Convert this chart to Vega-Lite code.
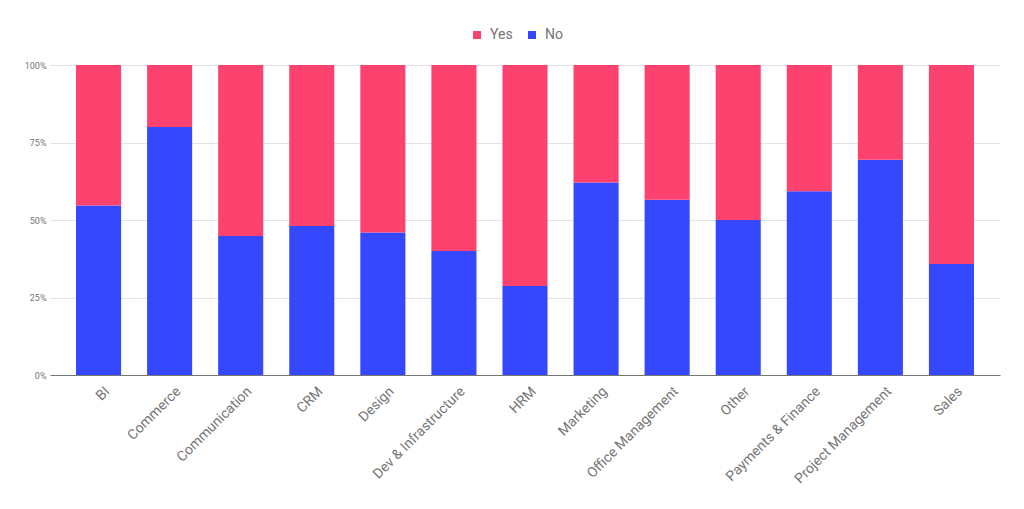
{
  "$schema": "https://vega.github.io/schema/vega-lite/v6.json",
  "autosize": "none",
  "width": 950,
  "height": 310,
  "padding": {"left": 50, "top": 65, "right": 24, "bottom": 134},
  "background": "white",
  "config": {
    "font": "Roboto",
    "view": {"stroke": null}
  },
  "data": {
    "values": [
      {"category": "BI", "answer": "No", "value": 0.547},
      {"category": "BI", "answer": "Yes", "value": 0.453},
      {"category": "Commerce", "answer": "No", "value": 0.80},
      {"category": "Commerce", "answer": "Yes", "value": 0.20},
      {"category": "Communication", "answer": "No", "value": 0.448},
      {"category": "Communication", "answer": "Yes", "value": 0.552},
      {"category": "CRM", "answer": "No", "value": 0.481},
      {"category": "CRM", "answer": "Yes", "value": 0.519},
      {"category": "Design", "answer": "No", "value": 0.46},
      {"category": "Design", "answer": "Yes", "value": 0.54},
      {"category": "Dev & Infrastructure", "answer": "No", "value": 0.40},
      {"category": "Dev & Infrastructure", "answer": "Yes", "value": 0.60},
      {"category": "HRM", "answer": "No", "value": 0.287},
      {"category": "HRM", "answer": "Yes", "value": 0.713},
      {"category": "Marketing", "answer": "No", "value": 0.621},
      {"category": "Marketing", "answer": "Yes", "value": 0.379},
      {"category": "Office Management", "answer": "No", "value": 0.565},
      {"category": "Office Management", "answer": "Yes", "value": 0.435},
      {"category": "Other", "answer": "No", "value": 0.50},
      {"category": "Other", "answer": "Yes", "value": 0.50},
      {"category": "Payments & Finance", "answer": "No", "value": 0.593},
      {"category": "Payments & Finance", "answer": "Yes", "value": 0.407},
      {"category": "Project Management", "answer": "No", "value": 0.694},
      {"category": "Project Management", "answer": "Yes", "value": 0.306},
      {"category": "Sales", "answer": "No", "value": 0.358},
      {"category": "Sales", "answer": "Yes", "value": 0.642}
    ]
  },
  "mark": {"type": "bar"},
  "encoding": {
    "x": {
      "field": "category",
      "type": "nominal",
      "sort": null,
      "scale": {"paddingInner": 0.366, "paddingOuter": 0.366},
      "axis": {
        "title": null,
        "labelAngle": -45,
        "labelAlign": "right",
        "labelBaseline": "top",
        "labelFontSize": 14,
        "labelColor": "#757575",
        "labelPadding": 9,
        "labelOffset": 4,
        "ticks": false,
        "domainColor": "#757575",
        "domainWidth": 1,
        "grid": false
      }
    },
    "y": {
      "field": "value",
      "type": "quantitative",
      "stack": "normalize",
      "scale": {"domain": [0, 1]},
      "axis": {
        "title": null,
        "format": ".0%",
        "values": [0, 0.25, 0.5, 0.75, 1],
        "labelFontSize": 9,
        "labelColor": "#757575",
        "labelPadding": 4,
        "ticks": false,
        "domain": false,
        "gridColor": "#e3e3e3",
        "gridWidth": 1
      }
    },
    "color": {
      "field": "answer",
      "type": "nominal",
      "scale": {"domain": ["Yes", "No"], "range": ["#fe426f", "#3548fe"]},
      "legend": {
        "title": null,
        "orient": "none",
        "direction": "horizontal",
        "legendX": 420,
        "legendY": -37,
        "symbolType": "square",
        "symbolSize": 64,
        "symbolStrokeWidth": 0,
        "labelFontSize": 14,
        "labelColor": "#757575",
        "columnPadding": 12,
        "labelOffset": 6
      }
    },
    "order": {"field": "answer", "sort": "ascending"}
  }
}
